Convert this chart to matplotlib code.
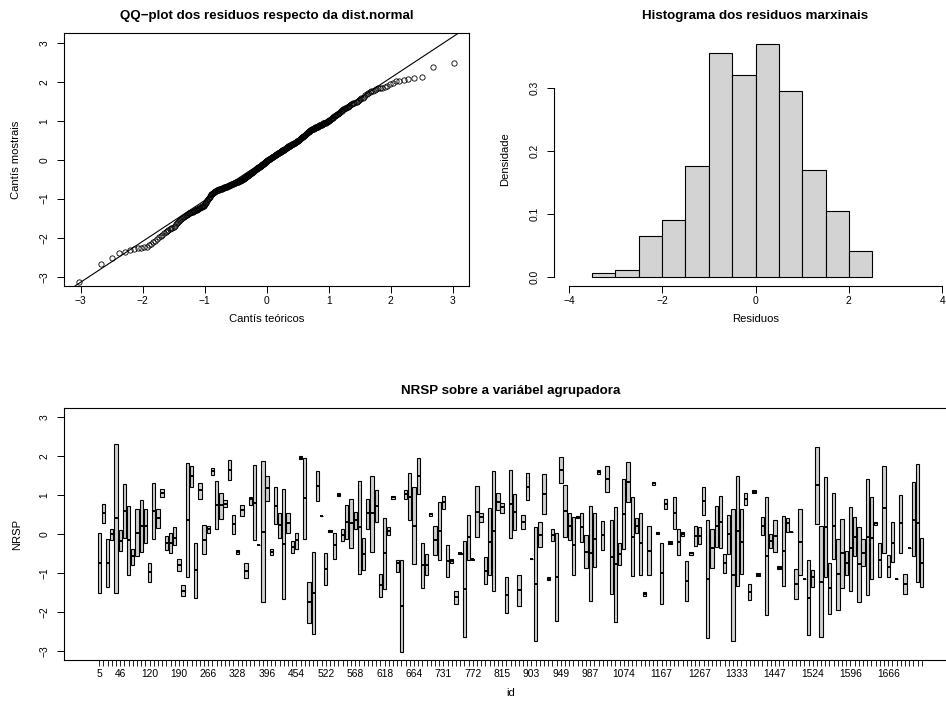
import matplotlib
matplotlib.use("Agg")
import matplotlib.pyplot as plt
import numpy as np
from statistics import NormalDist

plt.rcParams['font.family'] = ['Liberation Sans', 'DejaVu Sans']

residuos = [
  -3.15, -2.67, -2.53,
  -2.40, -2.37, -2.31, -2.28, -2.27, -2.26, -2.25, -2.23, -2.19, -2.16, -2.12, -2.08, -2.03,
  -1.98, -1.95, -1.92, -1.89, -1.86, -1.83, -1.80, -1.78, -1.76, -1.74, -1.72, -1.69, -1.66,
  -1.63, -1.60, -1.57, -1.54, -1.51,
  -1.49, -1.47, -1.46, -1.44, -1.43, -1.41, -1.40, -1.38, -1.37, -1.36, -1.35, -1.34, -1.33,
  -1.32, -1.31, -1.30, -1.29, -1.28, -1.27, -1.26, -1.25, -1.24, -1.23, -1.22, -1.21, -1.20,
  -1.19, -1.18, -1.16, -1.14, -1.12, -1.10, -1.07, -1.04, -1.01,
  -0.99, -0.97, -0.95, -0.93, -0.91, -0.89, -0.87, -0.86, -0.85, -0.84, -0.83, -0.82, -0.81,
  -0.80, -0.79, -0.78, -0.78, -0.77, -0.77, -0.76, -0.76, -0.75, -0.75, -0.74, -0.74, -0.73,
  -0.73, -0.72, -0.72, -0.71, -0.71, -0.70, -0.70, -0.69, -0.69, -0.68, -0.68, -0.67, -0.67,
  -0.66, -0.66, -0.65, -0.645, -0.64, -0.635, -0.63, -0.625, -0.62, -0.615, -0.61, -0.605,
  -0.60, -0.595, -0.59, -0.585, -0.58, -0.575, -0.57, -0.565, -0.56, -0.555, -0.55, -0.545,
  -0.54, -0.535, -0.53, -0.525, -0.52, -0.515, -0.51, -0.505,
  -0.49, -0.49, -0.48, -0.47, -0.46, -0.46, -0.45, -0.44, -0.43, -0.43,
  -0.42, -0.41, -0.40, -0.39, -0.39, -0.38, -0.37, -0.36, -0.36, -0.35,
  -0.34, -0.33, -0.32, -0.32, -0.31, -0.30, -0.29, -0.29, -0.28, -0.27,
  -0.26, -0.25, -0.25, -0.24, -0.23, -0.22, -0.22, -0.21, -0.20, -0.19,
  -0.18, -0.18, -0.17, -0.16, -0.15, -0.15, -0.14, -0.13, -0.12, -0.11,
  -0.11, -0.10, -0.09, -0.08, -0.08, -0.07, -0.06, -0.05, -0.04, -0.04,
  -0.03, -0.02, -0.01, -0.01,
  0.01, 0.01, 0.02, 0.03, 0.03, 0.04, 0.05, 0.05, 0.06, 0.07,
  0.07, 0.08, 0.08, 0.09, 0.10, 0.10, 0.11, 0.12, 0.12, 0.13,
  0.14, 0.14, 0.15, 0.16, 0.16, 0.17, 0.18, 0.18, 0.19, 0.20,
  0.20, 0.21, 0.22, 0.22, 0.23, 0.24, 0.24, 0.25, 0.26, 0.26,
  0.27, 0.28, 0.28, 0.29, 0.30, 0.30, 0.31, 0.32, 0.32, 0.33,
  0.34, 0.34, 0.35, 0.36, 0.36, 0.37, 0.38, 0.38, 0.39, 0.40,
  0.40, 0.41, 0.41, 0.42, 0.43, 0.43, 0.44, 0.45, 0.45, 0.46,
  0.47, 0.47, 0.48, 0.49,
  0.50, 0.51, 0.52, 0.53, 0.54, 0.55, 0.56, 0.57, 0.58, 0.59, 0.60, 0.61, 0.62, 0.63,
  0.64, 0.65, 0.66, 0.67, 0.68, 0.69, 0.70, 0.71, 0.72, 0.73, 0.74, 0.75, 0.76,
  0.77, 0.78, 0.78, 0.79, 0.80, 0.80, 0.81, 0.82, 0.83, 0.83, 0.84, 0.85, 0.85, 0.86,
  0.87, 0.88, 0.88, 0.89, 0.90, 0.90, 0.91, 0.92, 0.93, 0.93, 0.94, 0.95, 0.95, 0.96,
  0.97, 0.98, 0.98, 0.99,
  1.01, 1.02, 1.04, 1.05, 1.07, 1.08, 1.10, 1.11, 1.13, 1.14,
  1.15, 1.17, 1.18, 1.20, 1.21, 1.23, 1.24, 1.26, 1.27, 1.29,
  1.30, 1.32, 1.33, 1.35, 1.36, 1.38, 1.39, 1.41, 1.42, 1.44,
  1.45, 1.46, 1.48, 1.49,
  1.51, 1.53, 1.55, 1.57, 1.59, 1.62, 1.65, 1.68, 1.70, 1.73, 1.75, 1.77, 1.80, 1.82,
  1.83, 1.84, 1.85, 1.87, 1.90, 1.94, 1.98,
  2.01, 2.03, 2.05, 2.07, 2.09, 2.11, 2.37, 2.47,
]

# NRSP por grupo (id): maximo, mediana, minimo
nrsp_max = [
  0.04, 0.78, -0.13, 0.15, 2.33, 0.11, 1.29, 0.74, -0.37, 0.66, 0.88, 0.66, -0.73, 1.32, 0.66,
  1.17, -0.03, 0.03, 0.18, -0.64, -1.31, 1.82, 1.75, -0.21, 1.31, 0.25, 0.21, 1.71, 1.37, 1.07,
  0.88, 1.91, 0.49, -0.39, 0.76, -0.74, 0.96, 1.78, -0.26, 1.89, 1.50, -0.37, 1.21, 0.55, 1.17,
  0.55, -0.18, 0.04, 2.00, 1.97, -1.21, -0.45, 1.63, 0.47, -0.49, 0.12, 0.04, 1.06, 0.15, 0.76,
  0.90, 0.58, 1.36, -0.10, 0.91, 1.50, 1.14, -1.02, 0.43, 0.19, 0.99, -0.66, -0.66, 1.14, 1.58,
  1.21, 1.97, -0.21, -0.50, 0.56, 0.21, 0.83, 0.99, -0.27, -0.62, -1.45, -0.47, -0.16, 0.49,
  -0.62, 1.24, 0.55, -0.59, 0.67, 1.63, 1.07, 0.81, -1.09, 1.65, 1.03, -1.03, 0.49, 1.58, -0.62,
  0.18, 0.33, 1.56, -1.10, 0.13, 0.04, 1.99, 1.27, 0.56, 0.45, 0.48, 0.55, -0.02, 0.74, 0.55,
  1.64, 0.35, 1.75, 0.38, 0.69, -0.23, 1.43, 1.85, 0.95, 0.41, 0.55, -1.49, 0.21, 1.35, 0.07,
  -0.21, 0.92, -0.18, 0.96, 0.13, 0.05, -0.68, -0.45, 0.21, 0.18, 1.22, 0.38, 0.13, 0.74, 0.98,
  -0.50, 0.49, 0.66, 1.50, 0.64, 1.07, -1.27, 1.13, -1.00, 0.44, 0.96, 0.01, 0.37, -0.81, 0.47,
  0.41, 0.07, -0.90, 0.64, -1.15, -0.66, -0.92, 2.25, 0.21, 1.48, -0.73, 1.05, -0.13, 0.40,
  -0.42, 0.71, 0.44, 0.18, -0.13, 1.41, 0.95, 0.32, -0.23, 1.75, -0.53, 0.32, -1.15, 1.01,
  -1.02, -0.34, 1.34, 1.80, -0.08,
]
nrsp_med = [
  -0.74, 0.54, -0.73, 0.00, 0.43, -0.16, 0.60, -0.15, -0.56, 0.04, 0.21, 0.21, -0.96, 0.60, 0.41,
  1.07, -0.21, -0.23, -0.08, -0.79, -1.45, 0.37, 1.49, -0.92, 1.15, -0.15, 0.15, 1.63, 0.75, 0.75,
  0.79, 1.65, 0.26, -0.45, 0.62, -0.93, 0.90, 0.81, -0.26, 0.07, 1.18, -0.44, 0.73, 0.24, -0.25,
  0.30, -0.32, -0.15, 1.97, 0.93, -1.73, -1.50, 1.24, 0.47, -0.88, 0.09, -0.28, 1.02, -0.02, 0.32,
  0.28, 0.37, 0.18, -0.50, 0.54, 0.54, 0.73, -1.31, -0.49, 0.09, 0.95, -0.74, -1.83, 1.03, 0.96,
  0.21, 1.50, -0.79, -0.79, 0.52, -0.15, 0.08, 0.84, -0.68, -0.68, -1.60, -0.49, -1.41, -0.06,
  -0.64, 0.58, 0.45, -0.93, -0.19, 0.08, 0.84, 0.69, -1.56, 0.79, 0.57, -1.43, 0.32, 1.22, -0.62,
  -1.28, -0.01, 1.03, -1.14, -0.02, -1.09, 1.65, 0.61, 0.22, -0.28, 0.45, 0.18, -0.45, -0.49, -0.13,
  1.60, -0.02, 1.42, -0.57, -0.77, -0.51, 0.52, 1.34, -0.06, 0.22, -0.23, -1.53, -0.42, 1.31, 0.04,
  -0.98, 0.78, -0.21, 0.55, -0.20, 0.01, -1.19, -0.49, -0.04, -0.04, 0.86, -1.15, -0.36, 0.22, 0.32,
  -0.74, 0.01, -1.04, 0.09, -0.19, 0.92, -1.47, 1.09, -1.04, 0.21, -0.55, -0.16, -0.03, -0.85, -0.43,
  0.28, 0.07, -1.27, -0.20, -1.15, -1.62, -1.10, 1.26, -1.21, 0.19, -1.38, 0.21, -1.02, -0.49,
  -0.73, -0.36, -0.06, -0.76, -0.47, -0.06, -0.10, 0.28, -0.66, 0.67, -0.83, -0.21, -1.15, 0.28,
  -1.27, -0.34, 0.38, 0.30, -0.73,
]
nrsp_min = [
  -1.51, 0.30, -1.34, -0.15, -1.50, -0.42, -0.10, -1.04, -0.78, -0.56, -0.45, -0.21, -1.21, -0.11, 0.16,
  0.96, -0.39, -0.49, -0.28, -0.93, -1.58, -1.10, 1.22, -1.63, 0.92, -0.50, 0.03, 1.52, 0.14, 0.40,
  0.71, 1.39, 0.01, -0.50, 0.47, -1.12, 0.76, -0.15, -0.26, -1.74, 0.85, -0.52, 0.26, -0.08, -1.66,
  0.04, -0.49, -0.38, 1.94, -0.13, -2.27, -2.56, 0.85, 0.47, -1.29, 0.06, -0.62, 0.98, -0.16, -0.13,
  -0.34, 0.15, -1.02, -0.92, 0.14, -0.45, 0.32, -1.60, -1.41, -0.01, 0.91, -0.97, -3.01, 0.92, 0.37,
  -0.76, 1.03, -1.38, -1.04, 0.48, -0.54, -0.66, 0.64, -1.09, -0.74, -1.79, -0.51, -2.64, -0.66,
  -0.66, -0.06, 0.32, -1.27, -1.05, -1.46, 0.62, 0.55, -2.01, -0.08, 0.11, -1.83, 0.13, 0.88, -0.62,
  -2.74, -0.33, 0.52, -1.18, -0.16, -2.22, 1.31, -0.06, -0.15, -1.03, 0.42, -0.20, -0.86, -1.72, -0.83,
  1.56, -0.40, 1.10, -1.54, -2.24, -0.79, -0.38, 0.83, -1.07, 0.03, -1.04, -1.57, -1.05, 1.27, 0.01,
  -1.79, 0.64, -0.24, 0.13, -0.53, -0.03, -1.70, -0.53, -0.30, -0.25, 0.49, -2.67, -0.86, -0.32, -0.36,
  -1.00, -0.50, -2.74, -1.33, -1.02, 0.75, -1.68, 1.05, -1.08, -0.02, -2.07, -0.36, -0.45, -0.89, -1.33,
  0.07, 0.07, -1.66, -1.04, -1.15, -2.58, -1.34, 0.26, -2.64, -1.09, -2.04, -0.62, -1.94, -1.38,
  -1.04, -1.46, -0.56, -1.73, -0.81, -1.56, -1.15, 0.24, -1.10, -0.47, -1.10, -0.72, -1.15, -0.47,
  -1.53, -0.34, -0.56, -1.21, -1.36,
]

# ids que aparecen como etiqueta no eixo x e o numero de orde do grupo onde aparecen
id_etiquetas = ['5', '46', '120', '190', '266', '328', '396', '454', '522', '568', '618', '664',
                '731', '772', '815', '903', '949', '987', '1074', '1167', '1267', '1333',
                '1447', '1524', '1596', '1666']
id_orde = [1, 6, 13, 20, 27, 34, 41, 48, 55, 62, 69, 76, 83, 90, 97, 104, 111, 118, 126, 135,
           144, 153, 162, 171, 180, 189]

W, H = 946, 701
TICK_FS = 7.4
LAB_FS = 8.1
TITLE_FS = 9.6


def px_axes(fig, left, top, right, bottom):
  return fig.add_axes([left / W, 1 - bottom / H, (right - left) / W, (bottom - top) / H])


def style_ticks(ax):
  ax.tick_params(axis='both', direction='out', length=5, width=0.7, labelsize=TICK_FS, colors='black')
  ax.tick_params(axis='x', pad=2)
  ax.tick_params(axis='y', pad=5.5)
  for lab in ax.get_yticklabels():
    lab.set_rotation(90)
    lab.set_va('center')


def set_labels(ax, xlabel, ylabel, xy, yx):
  ax.set_xlabel(xlabel, fontsize=LAB_FS)
  ax.set_ylabel(ylabel, fontsize=LAB_FS, family=['Liberation Sans Narrow', 'Liberation Sans'])
  ax.xaxis.set_label_coords(0.5, xy)
  ax.yaxis.set_label_coords(yx, 0.5)
  ax.xaxis.label.set_va('center')
  ax.yaxis.label.set_va('center')


def main():
  fig = plt.figure(figsize=(W / 100, H / 100), dpi=100)

  res = np.sort(np.array(residuos))
  n = len(res)
  nd = NormalDist()
  teor = np.array([nd.inv_cdf((i - 0.5) / n) for i in range(1, n + 1)])

  # QQ-plot
  ax1 = px_axes(fig, 64, 33, 469, 286)
  ax1.plot(teor, res, 'o', mfc='none', mec='black', ms=3.8, mew=0.6)
  q1, q3 = np.percentile(res, [25, 75])
  z1, z3 = nd.inv_cdf(0.25), nd.inv_cdf(0.75)
  pend = (q3 - q1) / (z3 - z1)
  ax1.axline((z1, q1), slope=pend, color='black', lw=0.8)
  ax1.set_xlim(-3.27, 3.26)
  ax1.set_ylim(-3.24, 3.25)
  ax1.set_xticks(range(-3, 4))
  ax1.set_yticks(range(-3, 4))
  for s in ax1.spines.values():
    s.set_linewidth(0.8)
  style_ticks(ax1)
  ax1.set_title('QQ\u2212plot dos residuos respecto da dist.normal', fontsize=TITLE_FS,
                fontweight='bold', pad=10)
  set_labels(ax1, 'Cantís teóricos', 'Cantís mostrais', -0.130, -0.118)

  # histograma
  ax2 = px_axes(fig, 554, 33, 957, 286)
  ax2.hist(res, bins=np.arange(-3.5, 3.0, 0.5), density=True, color='lightgray',
           edgecolor='black', linewidth=0.8)
  ax2.set_xlim(-4.3175, 4.3175)
  ax2.set_ylim(-0.0149, 0.387)
  ax2.set_xticks([-4, -2, 0, 2, 4])
  ax2.set_yticks([0.0, 0.1, 0.2, 0.3])
  ax2.set_yticklabels(['0.0', '0.1', '0.2', '0.3'])
  ax2.spines['top'].set_visible(False)
  ax2.spines['right'].set_visible(False)
  ax2.spines['bottom'].set_bounds(-4, 4)
  ax2.spines['left'].set_bounds(0, 0.3)
  ax2.spines['bottom'].set_linewidth(0.8)
  ax2.spines['left'].set_linewidth(0.8)
  style_ticks(ax2)
  ax2.set_title('Histograma dos residuos marxinais', fontsize=TITLE_FS, fontweight='bold', pad=10)
  set_labels(ax2, 'Residuos', 'Densidade', -0.130, -0.122)

  # boxplot por grupo
  ax3 = px_axes(fig, 64, 407.7, 957, 660.3)
  stats = []
  for hi, md, lo in zip(nrsp_max, nrsp_med, nrsp_min):
    stats.append(dict(whislo=lo, q1=lo, med=md, q3=hi, whishi=hi, fliers=[]))
  ng = len(stats)
  pos = np.arange(1, ng + 1)
  ax3.bxp(stats, positions=pos, widths=0.78, patch_artist=True, showcaps=False,
          showfliers=False, manage_ticks=False,
          boxprops=dict(facecolor='#cfcfcf', edgecolor='black', linewidth=0.8),
          medianprops=dict(color='black', linewidth=1.4),
          whiskerprops=dict(linewidth=0.6, color='black'))
  ax3.set_xlim(-7.38, ng + 8.38)
  ax3.set_ylim(-3.23, 3.25)
  ax3.set_xticks(pos)
  etiq = [''] * ng
  for e, o in zip(id_etiquetas, id_orde):
    etiq[o - 1] = e
  ax3.set_xticklabels(etiq)
  ax3.set_yticks(range(-3, 4))
  for s in ax3.spines.values():
    s.set_linewidth(0.8)
  style_ticks(ax3)
  ax3.tick_params(axis='x', length=4, width=0.6)
  ax3.set_title('NRSP sobre a variábel agrupadora', fontsize=TITLE_FS, fontweight='bold', pad=10)
  set_labels(ax3, 'id', 'NRSP', -0.129, -0.0526)

  fig.savefig('out.png', dpi=100)


if __name__ == "__main__":
  main()
